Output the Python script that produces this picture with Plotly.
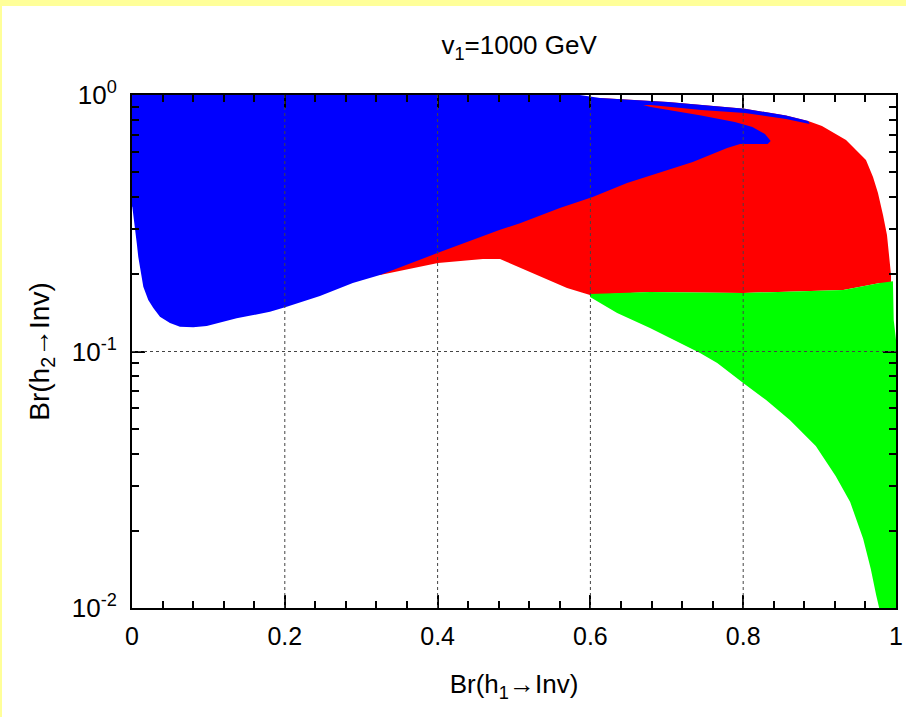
import plotly.graph_objects as go

# ---- data: region boundaries in (Br(h1->Inv), Br(h2->Inv)) ----
blue_x = [0.0, 0.586, 0.6126, 0.7016, 0.802, 0.856, 0.885, 0.887,
          0.856, 0.802, 0.745, 0.679, 0.669,
          0.679, 0.745, 0.789, 0.812, 0.8285, 0.836, 0.832, 0.796, 0.779,
          0.734, 0.691, 0.648, 0.603, 0.560, 0.5079, 0.4817, 0.3988, 0.3246,
          0.289, 0.246, 0.2025, 0.1806, 0.137, 0.0978, 0.0802, 0.0628, 0.0497,
          0.0366, 0.0279, 0.0213, 0.0148, 0.0114, 0.0082, 0.0062, 0.0039, 0.0004, 0.0]
blue_y = [1.0, 1.0, 0.973, 0.939, 0.884, 0.832, 0.792, 0.771,
          0.806, 0.851, 0.874, 0.914, 0.914,
          0.898, 0.832, 0.785, 0.750, 0.705, 0.662, 0.644, 0.644, 0.621,
          0.548, 0.497, 0.454, 0.400, 0.363, 0.3161, 0.298, 0.2414, 0.1987,
          0.1849, 0.1646, 0.1495, 0.1429, 0.1347, 0.1257, 0.1242, 0.1249, 0.1291,
          0.1366, 0.1477, 0.1588, 0.1789, 0.2023, 0.2342, 0.2649, 0.3065, 0.3667, 0.3667]

red_x = [0.3246, 0.4005, 0.4594, 0.4817, 0.4908, 0.525, 0.5694, 0.5995,
         0.678, 0.800, 0.931, 0.979, 0.9935,
         0.9935, 0.9908, 0.9882, 0.9830, 0.9764, 0.9699, 0.9607, 0.9346, 0.9031, 0.885,
         0.856, 0.802, 0.7016, 0.6126, 0.416]
red_y = [0.1987, 0.2213, 0.2296, 0.2296, 0.2233, 0.2023, 0.177, 0.166,
         0.1706, 0.1691, 0.1738, 0.185, 0.1834,
         0.1987, 0.2377, 0.2845, 0.3405, 0.415, 0.479, 0.558, 0.668, 0.757, 0.792,
         0.832, 0.884, 0.939, 0.973, 0.991]

green_x = [0.5995, 0.678, 0.800, 0.931, 0.979, 0.996, 0.997, 1.0, 1.0, 0.978,
           0.974, 0.967, 0.957, 0.940, 0.921, 0.895, 0.861, 0.830, 0.800,
           0.766, 0.7435, 0.678, 0.635, 0.5995]
green_y = [0.1675, 0.1706, 0.1691, 0.1738, 0.185, 0.188, 0.1327, 0.111, 0.01, 0.01,
           0.01124, 0.0142, 0.0186, 0.0259, 0.0327, 0.0428, 0.0541, 0.0647, 0.0754,
           0.0902, 0.0986, 0.1235, 0.1413, 0.163]

x_ticks = [0, 0.2, 0.4, 0.6, 0.8, 1]
x_ticktext = ["0", "0.2", "0.4", "0.6", "0.8", "1"]
y_ticks = [0.01, 0.1, 1]
y_ticktext = ["10<sup>-2</sup>", "10<sup>-1</sup>", "10<sup>0</sup>"]
x_minor = [i * 0.04 for i in range(26)]
y_minor = [m * d for d in (0.01, 0.1) for m in range(2, 10)]
x_grid = [0.2, 0.4, 0.6, 0.8]

FONT = "Liberation Sans, Arial, sans-serif"

fig = go.Figure()
for xs, ys, col in ((red_x, red_y, "#ff0000"),
                    (green_x, green_y, "#00ff00"),
                    (blue_x, blue_y, "#0000ff")):
    fig.add_trace(go.Scatter(x=xs, y=ys, mode="lines", fill="toself",
                             fillcolor=col, line=dict(width=0, color=col),
                             hoverinfo="skip", showlegend=False))

shapes = []
for gx in x_grid:
    shapes.append(dict(type="line", xref="x", yref="paper", x0=gx, x1=gx, y0=0, y1=1,
                       line=dict(color="#444444", width=1, dash="dot"), layer="above"))
shapes.append(dict(type="line", xref="paper", yref="paper", x0=0, x1=1, y0=0.5, y1=0.5,
                   line=dict(color="#444444", width=1, dash="dot"), layer="above"))
# pale yellow page border
PW, PH = 764.0, 513.0
shapes.append(dict(type="rect", xref="paper", yref="paper", x0=-132 / PW, x1=(906 - 132) / PW,
                   y0=1 + 89 / PH, y1=1 + 95 / PH, fillcolor="#ffff99", line=dict(width=0),
                   layer="below"))
shapes.append(dict(type="rect", xref="paper", yref="paper", x0=-132 / PW, x1=-130 / PW,
                   y0=-109 / PH, y1=1 + 95 / PH, fillcolor="#ffff99", line=dict(width=0),
                   layer="below"))

fig.update_layout(
    width=906, height=717,
    margin=dict(l=132, r=10, t=95, b=109, autoexpand=False),
    paper_bgcolor="white", plot_bgcolor="white",
    font=dict(family=FONT, size=24, color="black"),
    title=dict(text="v<sub>1</sub>=1000 GeV", x=0.573, xanchor="center", y=0.937,
               yanchor="middle", font=dict(size=26, family=FONT)),
    shapes=shapes,
    xaxis=dict(range=[0, 1], tickvals=x_ticks, ticktext=x_ticktext, automargin=False,
               ticks="inside", ticklen=13, tickwidth=1.5, tickcolor="black",
               showline=True, linecolor="black", linewidth=2, mirror="ticks",
               showgrid=False, zeroline=False, layer="above traces",
               tickfont=dict(size=25),
               minor=dict(tickvals=x_minor, ticks="inside", ticklen=7, tickwidth=1.5,
                          tickcolor="black", showgrid=False),
               title=dict(text="Br(h<sub>1</sub>→Inv)", standoff=26, font=dict(size=26)),
               ticklabelstandoff=5),
    yaxis=dict(type="log", range=[-2, 0], tickvals=y_ticks, ticktext=y_ticktext,
               automargin=False,
               ticks="inside", ticklen=13, tickwidth=1.5, tickcolor="black",
               showline=True, linecolor="black", linewidth=2, mirror="ticks",
               showgrid=False, zeroline=False, layer="above traces",
               tickfont=dict(size=26),
               minor=dict(tickvals=y_minor, ticks="inside", ticklen=7, tickwidth=1.5,
                          tickcolor="black", showgrid=False),
               title=dict(text="Br(h<sub>2</sub>→Inv)", standoff=14, font=dict(size=28)),
               ticklabelstandoff=8),
)

fig.write_html("out.html", config={"displayModeBar": False},
               post_script="document.body.style.margin='0px';")
